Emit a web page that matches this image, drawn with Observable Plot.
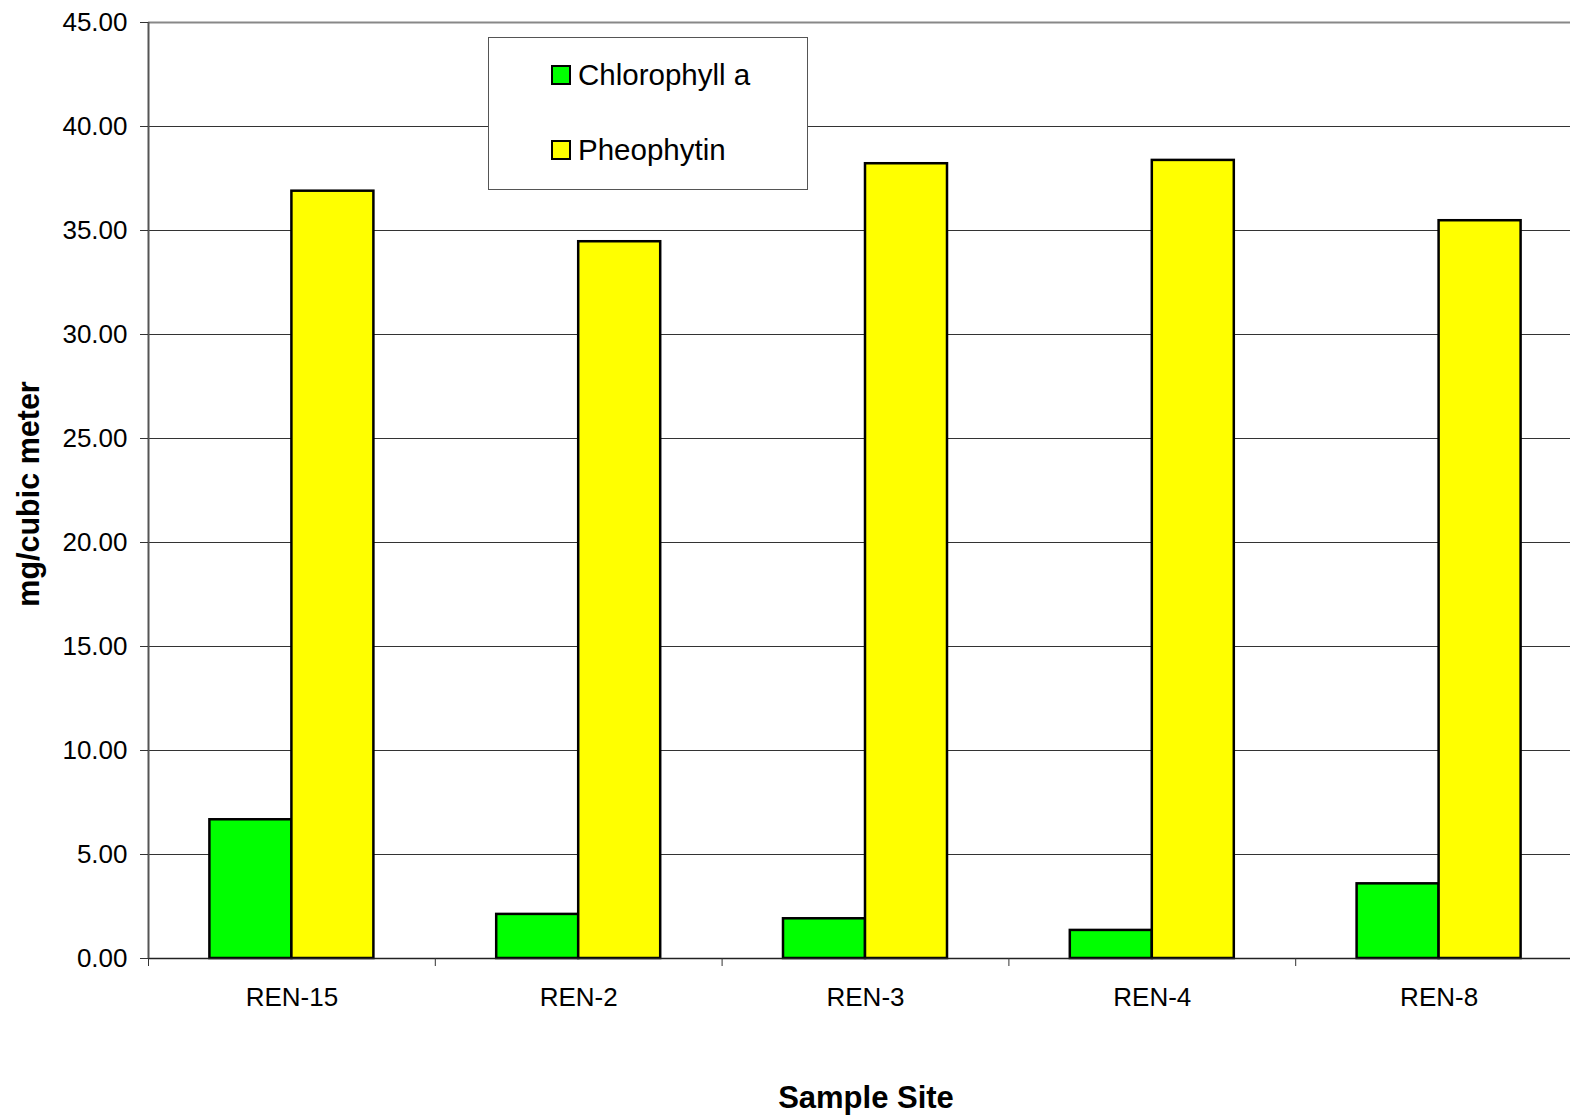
<!DOCTYPE html>
<html>
<head>
<meta charset="utf-8">
<script src="https://cdn.jsdelivr.net/npm/d3@7"></script>
<script src="https://cdn.jsdelivr.net/npm/@observablehq/plot@0.6"></script>
<style>
  html, body { margin: 0; padding: 0; background: #fff; overflow: hidden; }
  #wrap { position: relative; width: 1570px; height: 1119px; overflow: hidden; font-family: "Liberation Sans", Arial, sans-serif; }
  #chart { position: absolute; left: 0; top: 0; width: 1582px; }
  #chart svg { max-width: none !important; }
  .legend { position: absolute; left: 488px; top: 37px; width: 318px; height: 151px; border: 1px solid #555; background: #fff; }
  .item { position: absolute; left: 62px; display: flex; align-items: center; font-size: 29.5px; color: #000; }
  .sw { width: 16px; height: 16px; border: 2px solid #000; margin-right: 7px; }
  .ytitle { position: absolute; left: 28px; top: 494px; transform: translate(-50%, -50%) rotate(-90deg); font-weight: bold; font-size: 30.5px; white-space: nowrap; }
  .xtitle { position: absolute; left: 866px; top: 1098px; transform: translate(-50%, -50%); font-weight: bold; font-size: 31px; white-space: nowrap; }
</style>
</head>
<body>
<div id="wrap">
  <div id="chart"></div>
  <div class="legend" id="legend"></div>
  <div class="ytitle">mg/cubic meter</div>
  <div class="xtitle">Sample Site</div>
</div>
<script>
const sites = ["REN-15", "REN-2", "REN-3", "REN-4", "REN-8"];
const chlorophyll = [6.67, 2.12, 1.91, 1.35, 3.59];
const pheophytin = [36.89, 34.46, 38.21, 38.37, 35.47];
const seriesNames = ["Chlorophyll a", "Pheophytin"];
const seriesColors = ["#00ff00", "#ffff00"];
const yTicks = [0, 5, 10, 15, 20, 25, 30, 35, 40, 45];

const W = 1582, H = 1119, ML = 148, MR = 0, MT = 22, MB = 161;
const bw = (W - ML - MR) / sites.length;
const barW = 82;
const outer = (bw - 2 * barW) / 2;

const chlData = sites.map((s, i) => ({site: s, value: chlorophyll[i]}));
const pheoData = sites.map((s, i) => ({site: s, value: pheophytin[i]}));

const font = "Liberation Sans, Arial, sans-serif";

const chart = Plot.plot({
  width: W, height: H,
  marginLeft: ML, marginRight: MR, marginTop: MT, marginBottom: MB,
  style: {fontFamily: font, background: "white", color: "black", maxWidth: "none"},
  x: {domain: sites, padding: 0, round: false, axis: null},
  y: {domain: [0, 45], axis: null},
  marks: [
    Plot.gridY(yTicks.filter(d => d > 0 && d < 45), {stroke: "#333", strokeOpacity: 1, strokeWidth: 1}),
    Plot.ruleY([45], {stroke: "#888", strokeWidth: 2}),
    Plot.barY(chlData, {x: "site", y: "value", fill: seriesColors[0], stroke: "#000", strokeWidth: 2.5,
      insetLeft: outer, insetRight: outer + barW}),
    Plot.barY(pheoData, {x: "site", y: "value", fill: seriesColors[1], stroke: "#000", strokeWidth: 2.5,
      insetLeft: outer + barW, insetRight: outer}),
    Plot.ruleY([0], {stroke: "#222", strokeWidth: 1.5}),
    Plot.ruleX([sites[0]], {y1: 0, y2: 45, dx: -bw / 2, stroke: "#555", strokeWidth: 2}),
    Plot.axisY({ticks: yTicks, tickFormat: d => d.toFixed(2), tickSize: 8, tickPadding: 13,
      fontSize: 26, stroke: "#333", label: null}),
    Plot.axisX({tickSize: 8, tickFormat: () => "", dx: -bw / 2, stroke: "#333", label: null}),
    Plot.axisX({tickSize: 0, tickPadding: 29, fontSize: 26, label: null})
  ]
});
chart.style.maxWidth = "none";
document.getElementById("chart").appendChild(chart);

const legend = document.getElementById("legend");
const tops = [20, 95];
seriesNames.forEach((name, i) => {
  const it = document.createElement("div");
  it.className = "item";
  it.style.top = tops[i] + "px";
  const sw = document.createElement("div");
  sw.className = "sw";
  sw.style.background = seriesColors[i];
  const t = document.createElement("span");
  t.textContent = name;
  it.appendChild(sw);
  it.appendChild(t);
  legend.appendChild(it);
});
</script>
</body>
</html>
